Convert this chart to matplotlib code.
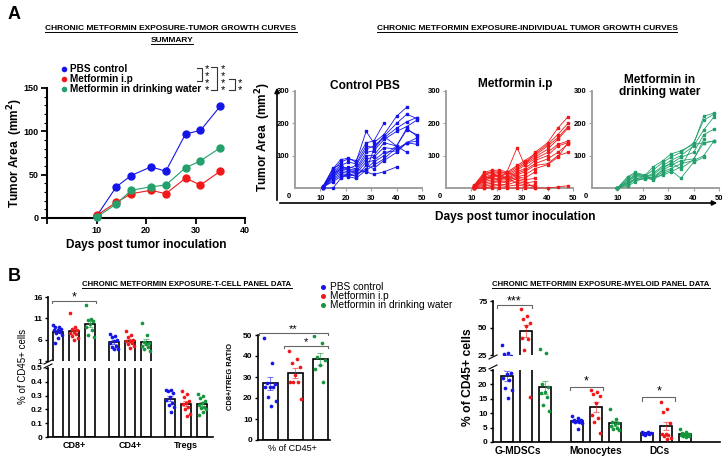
import numpy as np
import matplotlib
matplotlib.use('Agg')
import matplotlib.pyplot as plt
from matplotlib.lines import Line2D
from matplotlib.patches import FancyArrowPatch

plt.rcParams['font.family'] = ['Liberation Sans', 'DejaVu Sans']
nan = np.nan

# ---------------- DATA ----------------
# Panel A summary (mean tumour area, mm^2)
days_sum = [10, 14, 17, 21, 24, 28, 31, 35]
pbs_sum = [2, 36, 49, 59, 54, 97, 101, 129]
ip_sum = [3, 18, 28, 32, 28, 46, 38, 54]
dw_sum = [1, 16, 32, 36, 38, 58, 66, 81]
group_names = ['PBS control', 'Metformin i.p', 'Metformin in drinking water']

# Panel A individual curves
days_ctrl = [11, 15, 18, 21, 24, 28, 31, 35, 40, 44, 48]
ctrl_curves = [
    [5, 60, 88, 92, 80, 175, 140, 165, 222, 250, nan],
    [3, 55, 80, 90, 85, 140, 145, 200, nan, nan, nan],
    [4, 50, 70, 80, 75, 130, 125, 160, 200, 228, 215],
    [2, 45, 65, 60, 70, 120, 130, 155, 185, 205, 218],
    [1, 40, 60, 55, 60, 110, 115, 150, 175, 190, 210],
    [3, 38, 55, 50, 55, 100, 100, 140, 130, 180, 165],
    [0, 35, 50, 45, 50, 90, 95, 125, 120, 140, 155],
    [2, 30, 45, 40, 45, 80, 85, 110, 115, 140, 135],
    [1, 25, 40, 38, 40, 60, 80, 100, 130, 110, nan],
    [3, 20, 35, 35, 30, 55, 70, 90, 125, nan, nan],
    [2, 45, 58, 65, 60, 50, 42, 50, 65, nan, nan],
    [0, 0, 30, 45, 35, 70, 60, 85, 110, 140, 145],
    [4, 62, 72, 55, 48, 52, 120, 160, 130, 185, 160],
]
days_ip = [11, 15, 18, 21, 24, 28, 31, 35, 40, 44, 48]
ip_curves = [
    [8, 48, 55, 55, 50, 125, 70, 110, 140, 185, 220],
    [6, 45, 50, 50, 48, 70, 85, 105, 135, 165, 200],
    [5, 40, 45, 48, 45, 65, 80, 100, 130, 155, 190],
    [4, 35, 40, 45, 40, 60, 75, 95, 120, 150, 185],
    [3, 30, 38, 40, 35, 55, 70, 90, 110, 135, 145],
    [2, 28, 35, 35, 30, 50, 60, 85, 100, 130, 140],
    [1, 25, 30, 30, 28, 45, 55, 75, 90, 110, 135],
    [2, 20, 25, 25, 25, 40, 50, 70, 75, 100, 110],
    [0, 15, 20, 22, 20, 35, 40, 60, 72, 95, 140],
    [3, 40, 50, 30, 50, 35, 30, 50, nan, nan, nan],
    [1, 10, 15, 20, 15, 30, 25, 30, nan, nan, nan],
    [0, 5, 10, 12, 10, 20, 15, 20, nan, nan, nan],
    [0, 0, 5, 8, 5, 10, 5, 10, nan, nan, nan],
    [0, 0, 0, 0, 0, 0, 0, 0, 0, 3, 7],
    [5, 35, 30, 25, 35, 25, 20, 0, nan, nan, nan],
    [2, 22, 35, 40, 30, 15, 10, 5, nan, nan, nan],
]
days_dw = [10, 14, 17, 21, 24, 28, 31, 35, 40, 44, 48]
dw_curves = [
    [0, 35, 48, 40, 65, 85, 105, 115, 135, 222, 232],
    [0, 30, 45, 38, 55, 80, 95, 110, 140, 210, 228],
    [0, 25, 40, 35, 45, 70, 85, 100, 130, 180, 220],
    [0, 20, 35, 35, 40, 65, 75, 95, 110, 165, 182],
    [0, 15, 30, 30, 35, 55, 70, 85, 90, 140, 145],
    [0, 10, 25, 28, 30, 50, 60, 75, 85, 100, 145],
    [0, 5, 20, 32, 25, 45, 55, 30, 80, 95, nan],
    [0, 12, 28, 36, 32, 40, 50, 65, 135, 140, 145],
    [0, 18, 42, 38, 28, 60, 78, 60, 88, 150, nan],
]

# Panel B T-cell panel (% of CD45+)
tcell_cats = ['CD8+', 'CD4+', 'Tregs']
cd8_pbs = [9.4, 9.0, 8.9, 8.5, 8.3, 8.2, 7.8, 7.6, 7.1, 6.4, 5.3]
cd8_ip = [12.2, 8.9, 8.5, 8.2, 7.8, 7.6, 7.3, 6.9, 6.4, 6.0]
cd8_dw = [14.1, 10.9, 10.7, 10.3, 9.6, 8.9, 8.2, 7.1, 6.7]
cd4_pbs = [7.3, 6.9, 6.6, 6.0, 5.6, 5.3, 4.6, 4.2, 3.8, 3.7]
cd4_ip = [8.0, 7.1, 6.7, 6.0, 5.8, 5.6, 5.3, 4.9, 4.6, 4.0]
cd4_dw = [10.0, 7.2, 5.4, 5.3, 4.9, 4.6, 4.2, 3.8, 3.4]
treg_pbs = [0.34, 0.34, 0.33, 0.32, 0.29, 0.27, 0.25, 0.23, 0.22, 0.18]
treg_ip = [0.33, 0.31, 0.29, 0.26, 0.25, 0.24, 0.22, 0.20, 0.17, 0.15]
treg_dw = [0.31, 0.30, 0.28, 0.26, 0.25, 0.23, 0.22, 0.21, 0.20, 0.18, 0.16]

# CD8+/Treg ratio
ratio_pbs = [48.4, 36.8, 27.0, 26.7, 25.4, 25.1, 25.1, 20.3, 18.7, 16.2]
ratio_ip = [42.5, 38.7, 36.5, 34.6, 31.0, 27.8, 27.8, 27.8, 19.4]
ratio_dw = [49.5, 46.0, 39.7, 38.0, 35.7, 33.6, 27.8]

# Myeloid panel
mye_cats = ['G-MDSCs', 'Monocytes', 'DCs']
gm_pbs = [34.5, 27.0, 25.8, 24.0, 23.5, 22.3, 21.5, 18.6, 18.0, 15.2]
gm_ip = [68.0, 61.0, 58.5, 55.0, 52.0, 41.0, 40.0, 30.0, 15.7]
gm_dw = [31.0, 27.0, 20.3, 19.0, 17.4, 16.9, 15.7, 12.8, 10.8]
mo_pbs = [9.2, 8.2, 7.8, 7.6, 7.4, 7.2, 7.0, 6.8, 6.5, 4.6]
mo_ip = [18.0, 17.5, 16.5, 15.8, 13.5, 9.3, 8.5, 7.0, 3.0]
mo_dw = [11.5, 8.0, 7.0, 6.5, 6.2, 5.5, 5.0, 4.5, 4.0]
dc_pbs = [3.6, 3.4, 3.2, 3.0, 3.0, 2.9, 2.8, 2.6]
dc_ip = [14.0, 11.5, 10.5, 6.5, 2.8, 2.8, 2.6, 2.0, 1.5, 1.2]
dc_dw = [4.5, 3.5, 3.0, 2.8, 2.7, 2.5, 2.3, 2.2, 2.0, 1.8]

# ---------------- STYLE ----------------
BLUE = '#1515e8'
RED = '#f01818'
GREEN_A = '#23a06c'
GREEN_B = '#15963a'

W, H = 725, 459
fig = plt.figure(figsize=(W / 100, H / 100), dpi=100)


def add_ax(l, t, r, b):
    return fig.add_axes([l / W, 1 - b / H, (r - l) / W, (b - t) / H])


def ftext(x, y, s, **kw):
    return fig.text(x / W, 1 - y / H, s, **kw)


def fline(xs, ys, **kw):
    fig.add_artist(Line2D([x / W for x in xs], [1 - y / H for y in ys],
                          transform=fig.transFigure, **kw))


titles = []


def title_ul(x, y, s, fs=6.0):
    t = ftext(x, y, s, ha='center', va='baseline', fontsize=fs, fontweight='bold')
    titles.append((t, y))


# ---------------- PANEL A : summary ----------------
ftext(8, 19, 'A', fontsize=13, fontweight='bold')
title_ul(171, 30, 'CHRONIC METFORMIN EXPOSURE-TUMOR GROWTH CURVES')
title_ul(172, 42, 'SUMMARY')

ax = add_ax(47, 88, 245, 218)
for vals, c in [(pbs_sum, BLUE), (ip_sum, RED), (dw_sum, GREEN_A)]:
    ax.plot(days_sum, vals, '-o', color=c, lw=0.8, ms=5, clip_on=False, zorder=3)
ax.set_xlim(0, 40)
ax.set_ylim(0, 150)
for s in ['top', 'right']:
    ax.spines[s].set_visible(False)
for s in ['left', 'bottom']:
    ax.spines[s].set_linewidth(1.5)
ax.set_xticks([0, 10, 20, 30, 40])
ax.set_xticklabels(['', '10', '20', '30', '40'])
ax.set_yticks([0, 50, 100, 150])
ax.set_yticks(np.arange(0, 151, 10), minor=True)
ax.tick_params(axis='both', which='major', length=4, width=1.3, labelsize=6.5, pad=2)
ax.tick_params(axis='y', which='minor', length=2, width=0.8)
for lab in ax.get_xticklabels() + ax.get_yticklabels():
    lab.set_fontweight('bold')
ax.set_xlabel('Days post tumor inoculation', fontsize=8.6, fontweight='bold', labelpad=3)
ftext(15, 153, 'Tumor Area  (mm$^\\mathbf{2}$)', fontsize=8.6, fontweight='bold',
      rotation=90, ha='center', va='center')

# legend
for i, (nm, c) in enumerate(zip(group_names, [BLUE, RED, GREEN_A])):
    y = 69 + 10 * i
    fline([64], [y], marker='o', ms=3, color=c, lw=0)
    ftext(70, y, nm, fontsize=7.2, fontweight='bold', va='center')

# significance brackets
BK = '#333333'
fline([197, 202, 202, 197], [68, 68, 81, 81], color=BK, lw=0.8)
ftext(207, 80, '*\n*\n*\n*', fontsize=8, ha='center', va='center', linespacing=0.62)
fline([211, 217, 217, 211], [67, 67, 90, 90], color=BK, lw=0.8)
ftext(223, 80, '*\n*\n*\n*', fontsize=8, ha='center', va='center', linespacing=0.62)
fline([229, 235, 235, 229], [79, 79, 90, 90], color=BK, lw=0.8)
ftext(240, 87, '*\n*', fontsize=8, ha='center', va='center', linespacing=0.62)

# ---------------- PANEL A : individual curves ----------------
title_ul(527, 30, 'CHRONIC METFORMIN EXPOSURE-INDIVIDUAL TUMOR GROWTH CURVES')

indiv = [
    (295, 422, days_ctrl, ctrl_curves, BLUE, 'Control PBS', 365, 86),
    (446, 573, days_ip, ip_curves, RED, 'Metformin i.p', 515, 84),
    (592, 719, days_dw, dw_curves, GREEN_A, 'Metformin in\ndrinking water', 660, 86),
]
for (l, r, days, curves, c, ttl, tx, ty) in indiv:
    a = add_ax(l, 91, r, 188)
    for cv in curves:
        a.plot(days, cv, '-s', color=c, lw=0.6, ms=1.8, clip_on=False, zorder=3)
    a.set_xlim(0, 50)
    a.set_ylim(0, 300)
    for s in ['top', 'right']:
        a.spines[s].set_visible(False)
    for s in ['left', 'bottom']:
        a.spines[s].set_linewidth(1.4)
        a.spines[s].set_color('#a0a0a0')
    a.set_xticks([10, 20, 30, 40, 50])
    a.set_yticks([100, 200, 300])
    a.tick_params(axis='both', length=2, width=0.8, color='#a0a0a0', labelsize=5.5, pad=2)
    a.tick_params(axis='x', pad=3)
    for lab in a.get_xticklabels() + a.get_yticklabels():
        lab.set_fontweight('bold')
    ftext(l - 6, 196, '0', fontsize=5.5, fontweight='bold', ha='center', va='center')
    ftext(tx, ty, ttl, fontsize=8.6, fontweight='bold', ha='center', va='center',
          linespacing=1.05)

# big arrow axes
fig.add_artist(FancyArrowPatch((277 / W, 1 - 203 / H), (277 / W, 1 - 85 / H),
                               transform=fig.transFigure, arrowstyle='-|>',
                               mutation_scale=7, lw=1.2, color='k'))
fig.add_artist(FancyArrowPatch((277 / W, 1 - 203 / H), (720 / W, 1 - 203 / H),
                               transform=fig.transFigure, arrowstyle='-|>',
                               mutation_scale=7, lw=1.2, color='k'))
ftext(263, 137, 'Tumor Area  (mm$^\\mathbf{2}$)', fontsize=8.6, fontweight='bold',
      rotation=90, ha='center', va='center')
ftext(515, 217, 'Days post tumor inoculation', fontsize=8.6, fontweight='bold',
      ha='center', va='center')

# ---------------- PANEL B ----------------
ftext(8, 281, 'B', fontsize=13, fontweight='bold')
title_ul(187, 286, 'CHRONIC METFORMIN EXPOSURE-T-CELL PANEL DATA', fs=5.6)
title_ul(601, 286, 'CHRONIC METFORMIN EXPOSURE-MYELOID PANEL DATA', fs=5.6)

for i, (nm, c) in enumerate(zip(group_names, [BLUE, RED, GREEN_B])):
    y = 287 + 9 * i
    fline([323], [y], marker='o', ms=2.6, color=c, lw=0)
    ftext(330, y, nm, fontsize=7.3, va='center')


def spread(n, w):
    idx = np.arange(n)
    return ((idx * 0.618034) % 1.0 - 0.5) * w


def draw_group(axes, xc, vals, c, width):
    vals = np.asarray(vals, float)
    m = vals.mean()
    sem = vals.std(ddof=1) / np.sqrt(len(vals))
    xs = xc + spread(len(vals), width * 0.85)
    for a in axes:
        a.bar(xc, m, width, facecolor='white', edgecolor='k', lw=1.2, zorder=1)
        a.scatter(xs, vals, s=7, color=c, zorder=3, linewidths=0)
        a.errorbar(xc, m, yerr=sem, color=c, alpha=0.55, lw=0.8, capsize=2.2,
                   capthick=0.8, zorder=4)


def style_bar_ax(a, bottom=True):
    for s in ['top', 'right']:
        a.spines[s].set_visible(False)
    a.spines['left'].set_linewidth(1.2)
    if bottom:
        a.spines['bottom'].set_linewidth(1.2)
    else:
        a.spines['bottom'].set_visible(False)
        a.set_xticks([])
    a.tick_params(axis='y', length=2.5, width=1, labelsize=6, pad=1.5)
    a.tick_params(axis='x', length=0, labelsize=6.5, pad=3)
    for lab in a.get_yticklabels():
        lab.set_fontweight('bold')


def bracket(a, x1, x2, y, h, txt, dy=0.0, fs=9):
    a.plot([x1, x1, x2, x2], [y - h, y, y, y - h], color='#666666', lw=0.8,
           clip_on=False, zorder=5)
    a.text((x1 + x2) / 2, y + dy, txt, ha='center', va='center', fontsize=fs)


# T-cell panel (broken axis)
off_t, w_t = 0.286, 0.18
t_up = add_ax(48, 297, 213, 361)
t_lo = add_ax(48, 368, 213, 437)
tgroups = [(cd8_pbs, cd8_ip, cd8_dw), (cd4_pbs, cd4_ip, cd4_dw), (treg_pbs, treg_ip, treg_dw)]
for gi, g in enumerate(tgroups):
    for k, (vals, c) in enumerate(zip(g, [BLUE, RED, GREEN_B])):
        draw_group([t_up, t_lo], gi + (k - 1) * off_t, vals, c, w_t)
for a in (t_up, t_lo):
    a.set_xlim(-0.46, 2.48)
t_up.set_ylim(1, 16)
t_up.set_yticks([1, 6, 11, 16])
t_lo.set_ylim(0, 0.5)
t_lo.set_yticks([0, 0.1, 0.2, 0.3, 0.4, 0.5])
t_lo.set_yticklabels(['0', '0.1', '0.2', '0.3', '0.4', '0.5'])
style_bar_ax(t_up, bottom=False)
style_bar_ax(t_lo)
t_lo.set_xticks([0, 1, 2])
t_lo.set_xticklabels(tcell_cats, fontweight='bold')
bracket(t_up, -0.39, 0.39, 15.1, 0.6, '*', dy=0.9)
fline([44, 52], [364, 360], color='k', lw=0.8)
fline([44, 52], [368, 364], color='k', lw=0.8)
ftext(23, 366, '% of CD45+ cells', fontsize=7, rotation=90, ha='center', va='center')

# CD8/Treg ratio panel
r_ax = add_ax(258, 335, 330, 440)
for k, (vals, c) in enumerate(zip([ratio_pbs, ratio_ip, ratio_dw], [BLUE, RED, GREEN_B])):
    draw_group([r_ax], k, vals, c, 0.6)
r_ax.set_xlim(-0.48, 2.4)
r_ax.set_ylim(0, 50)
r_ax.set_yticks([0, 10, 20, 30, 40, 50])
style_bar_ax(r_ax)
r_ax.set_xticks([0.9])
r_ax.set_xticklabels(['% of CD45+'], fontsize=6.5)
bracket(r_ax, -0.45, 2.3, 51, 1.0, '**', dy=1.6, fs=8)
bracket(r_ax, 0.55, 2.3, 44.8, 1.0, '*', dy=1.6, fs=8)
ftext(230, 377, 'CD8+/TREG RATIO', fontsize=5.4, fontweight='bold', rotation=90,
      ha='center', va='center')

# Myeloid panel (broken axis)
off_m, w_m = 0.27, 0.17
m_up = add_ax(493, 301, 720, 355)
m_lo = add_ax(493, 370, 720, 442)
mgroups = [(gm_pbs, gm_ip, gm_dw), (mo_pbs, mo_ip, mo_dw), (dc_pbs, dc_ip, dc_dw)]
for gi, g in enumerate(mgroups):
    for k, (vals, c) in enumerate(zip(g, [BLUE, RED, GREEN_B])):
        draw_group([m_up, m_lo], gi + (k - 1) * off_m, vals, c, w_m)
for a in (m_up, m_lo):
    a.set_xlim(-0.47, 2.77)
m_up.set_ylim(25, 75)
m_up.set_yticks([25, 50, 75])
m_lo.set_ylim(0, 25)
m_lo.set_yticks([0, 5, 10, 15, 20, 25])
style_bar_ax(m_up, bottom=False)
style_bar_ax(m_lo)
m_lo.set_xticks([-0.12, 1, 1.9])
m_lo.set_xticklabels(mye_cats, fontweight='bold', fontsize=7.3)
bracket(m_up, -0.41, 0.08, 71.3, 3, '***', dy=3.5)
bracket(m_lo, 0.63, 1.1, 19.1, 1.2, '*', dy=1.8)
bracket(m_lo, 1.66, 2.13, 15.6, 1.2, '*', dy=1.8)
fline([489, 497], [359, 355], color='k', lw=0.8)
fline([489, 497], [369, 365], color='k', lw=0.8)
ftext(468, 377, '% of CD45+ cells', fontsize=8.7, fontweight='bold', rotation=90,
      ha='center', va='center')

# underline titles
fig.canvas.draw()
for t, y in titles:
    bb = t.get_window_extent()
    fline([bb.x0, bb.x1], [y + 1.5, y + 1.5], color='k', lw=0.7)

fig.savefig('out.png', dpi=100)
